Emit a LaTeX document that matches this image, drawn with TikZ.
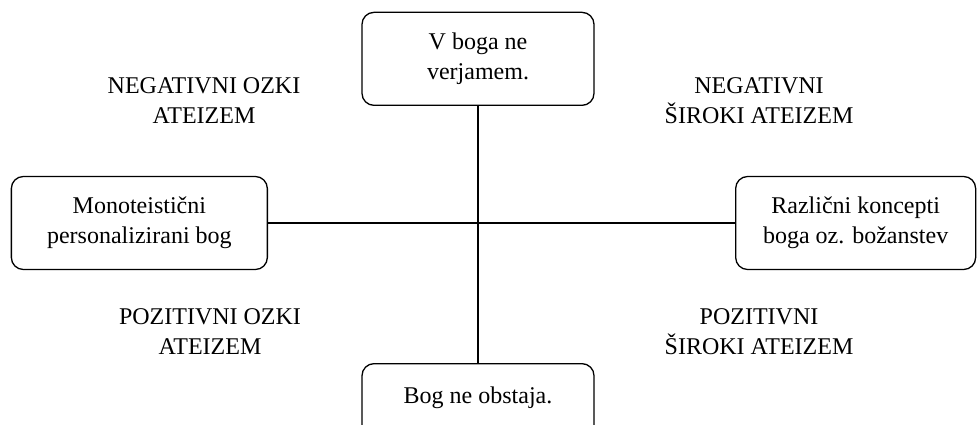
\documentclass[tikz,border=0pt]{standalone}
\usepackage{fontspec}
\setmainfont{Liberation Serif}
\usetikzlibrary{positioning}

\begin{document}
\begin{tikzpicture}[
  x=1pt, y=1pt,
  font=\fontsize{24}{30}\selectfont,
  box/.style={draw, rounded corners=12pt, line width=1.3pt, align=center, inner sep=4pt, minimum height=93pt},
  lbl/.style={align=center},
  link/.style={line width=1.3pt}
]
\useasboundingbox (0,0) rectangle (979,-425);

% sredina kriza
\coordinate (mid) at (478,-223);

% okvirji
\node[box, minimum width=232pt, above=117pt of mid] (ne) {V boga ne\\verjamem.};
\node[box, minimum width=232pt, below=140pt of mid, text height=20pt, text depth=33pt] (ni) {Bog ne obstaja.};
\node[box, minimum width=256pt, left=210pt of mid] (mono) {Monoteistični\\personalizirani bog};
\node[box, minimum width=240pt, right=257pt of mid] (razl) {Različni koncepti\\boga oz. božanstev};

% oznake kvadrantov
\node[lbl] (negozki) at (204,-101) {NEGATIVNI OZKI\\ATEIZEM};
\node[lbl] (negsir) at (759,-101) {NEGATIVNI\\ŠIROKI ATEIZEM};
\node[lbl] (pozozki) at (210,-332) {POZITIVNI OZKI\\ATEIZEM};
\node[lbl] (pozsir) at (759,-332) {POZITIVNI\\ŠIROKI ATEIZEM};

% crte
\draw[link] (ne) -- (ni);
\draw[link] (mono) -- (razl);

\end{tikzpicture}
\end{document}
